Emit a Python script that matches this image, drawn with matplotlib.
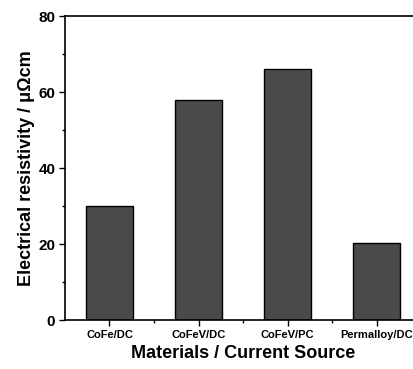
import matplotlib
matplotlib.use("Agg")
import matplotlib.pyplot as plt
from matplotlib.ticker import MultipleLocator, FixedLocator

categories = ["CoFe/DC", "CoFeV/DC", "CoFeV/PC", "Permalloy/DC"]
resistivity = [30, 58, 66, 20.3]

plt.rcParams['font.family'] = ['Liberation Sans', 'DejaVu Sans']
plt.rcParams['font.weight'] = 'bold'

fig = plt.figure(figsize=(4.14, 3.69), dpi=100)
ax = fig.add_axes([65/414, 1-320/369, (421-65)/414, (320-16)/369])
x = list(range(1, len(categories)+1))
ax.bar(x, resistivity, width=0.52, color='#4a4a4a', edgecolor='black', linewidth=1.0)
ax.set_xlim(0.5, 4.5)
ax.set_ylim(0, 80)
ax.set_xticks(x)
ax.set_xticklabels(categories, fontsize=8, fontweight='bold')
ax.xaxis.set_minor_locator(FixedLocator([1.5, 2.5, 3.5]))
ax.yaxis.set_major_locator(MultipleLocator(20))
ax.yaxis.set_minor_locator(MultipleLocator(10))
ax.tick_params(axis='both', which='major', direction='out', length=4, width=1)
ax.tick_params(axis='both', which='minor', direction='out', length=2.5, width=1)
ax.tick_params(axis='x', pad=3)
ax.tick_params(axis='y', labelsize=11, pad=3)
for lab in ax.get_yticklabels():
    lab.set_fontweight('bold')
for s in ax.spines.values():
    s.set_linewidth(1.2)
ax.set_xlabel("Materials / Current Source", fontsize=13, fontweight='bold', labelpad=4)
ax.set_ylabel("Electrical resistivity / μΩcm", fontsize=13, fontweight='bold', labelpad=2)
fig.savefig("out.png", dpi=100)
